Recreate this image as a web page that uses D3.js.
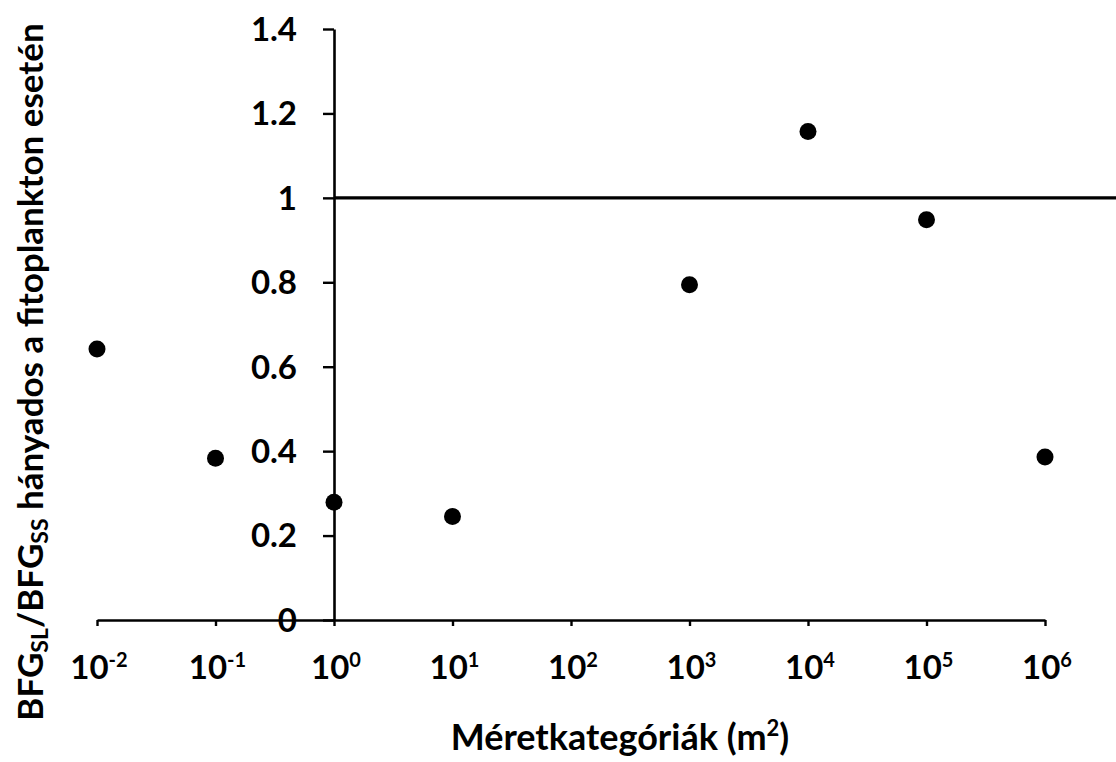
<!DOCTYPE html>
<html><head><meta charset="utf-8">
<script src="https://cdn.jsdelivr.net/npm/d3@7"></script>
<style>body{margin:0;background:#fff}svg{display:block}text{font-family:Lato,"Open Sans",sans-serif;font-weight:bold;fill:#000}</style>
</head><body><svg id="c" width="1116" height="762"></svg>
<script>
const sizeCategories = [0.01, 0.1, 1, 10, 1000, 10000, 100000, 1000000];
const ratioValues = [0.642, 0.383, 0.279, 0.245, 0.794, 1.157, 0.948, 0.386];
const xTickExponents = [-2, -1, 0, 1, 2, 3, 4, 5, 6];
const yTickValues = [0, 0.2, 0.4, 0.6, 0.8, 1, 1.2, 1.4];
const refLineX = [1, 4e6];
const refLineY = [1, 1];

const svg = d3.select("#c");
const x = d3.scaleLog().domain([0.01, 1e6]).range([97, 1045]);
const y = d3.scaleLinear().domain([0, 1.4]).range([620, 29]);

// x axis
const xa = svg.append("g").attr("transform", `translate(0,${y(0)})`)
  .call(d3.axisBottom(x).tickValues(xTickExponents.map(e => Math.pow(10, e))).tickSize(6).tickSizeOuter(0).tickFormat(""));
xa.select(".domain").attr("stroke-width", 2.6);
xa.selectAll(".tick line").attr("stroke-width", 2.4);
const xl = svg.append("g").selectAll("text").data(xTickExponents).join("text")
  .attr("x", d => x(Math.pow(10, d)) + 2).attr("y", 679).attr("text-anchor", "middle").attr("font-size", 33);
xl.append("tspan").text("10");
xl.append("tspan").attr("font-size", 20).attr("dy", -12).text(d => d < 0 ? "-" + Math.abs(d) : String(d));

// y axis
const ya = svg.append("g").attr("transform", `translate(${x(1)},0)`)
  .call(d3.axisLeft(y).tickValues(yTickValues).tickSize(11).tickSizeOuter(0).tickFormat(""));
ya.select(".domain").attr("stroke-width", 2.6);
ya.selectAll(".tick line").attr("stroke-width", 2.4);
svg.append("g").selectAll("text").data(yTickValues).join("text")
  .attr("x", 297).attr("y", d => y(d)).attr("dy", "0.36em").attr("text-anchor", "end").attr("font-size", 33)
  .text(d => d3.format("")(+d.toFixed(1)));

// reference line
svg.append("path").datum(refLineX.map((v, i) => [v, refLineY[i]]))
  .attr("d", d3.line().x(d => x(d[0])).y(d => y(d[1]))).attr("stroke", "#000").attr("stroke-width", 3.2).attr("fill", "none");

// points
svg.append("g").selectAll("circle").data(sizeCategories.map((c, i) => [c, ratioValues[i]])).join("circle")
  .attr("cx", d => x(d[0])).attr("cy", d => y(d[1])).attr("r", 8.5).attr("fill", "#000");

// axis titles
const xt = svg.append("text").attr("x", 620).attr("y", 750).attr("text-anchor", "middle").attr("font-size", 36);
xt.append("tspan").text("Méretkategóriák (m");
xt.append("tspan").attr("font-size", 22).attr("dy", -14).text("2");
xt.append("tspan").attr("dy", 14).text(")");

const yt = svg.append("text").attr("transform", "translate(43,372) rotate(-90)").attr("text-anchor", "middle").attr("font-size", 35);
yt.append("tspan").text("BFG");
yt.append("tspan").attr("font-size", 23).attr("dy", 5).text("SL");
yt.append("tspan").attr("dy", -5).text("/BFG");
yt.append("tspan").attr("font-size", 23).attr("dy", 5).text("SS");
yt.append("tspan").attr("dy", -5).text(" hányados a fitoplankton esetén");
</script></body></html>
